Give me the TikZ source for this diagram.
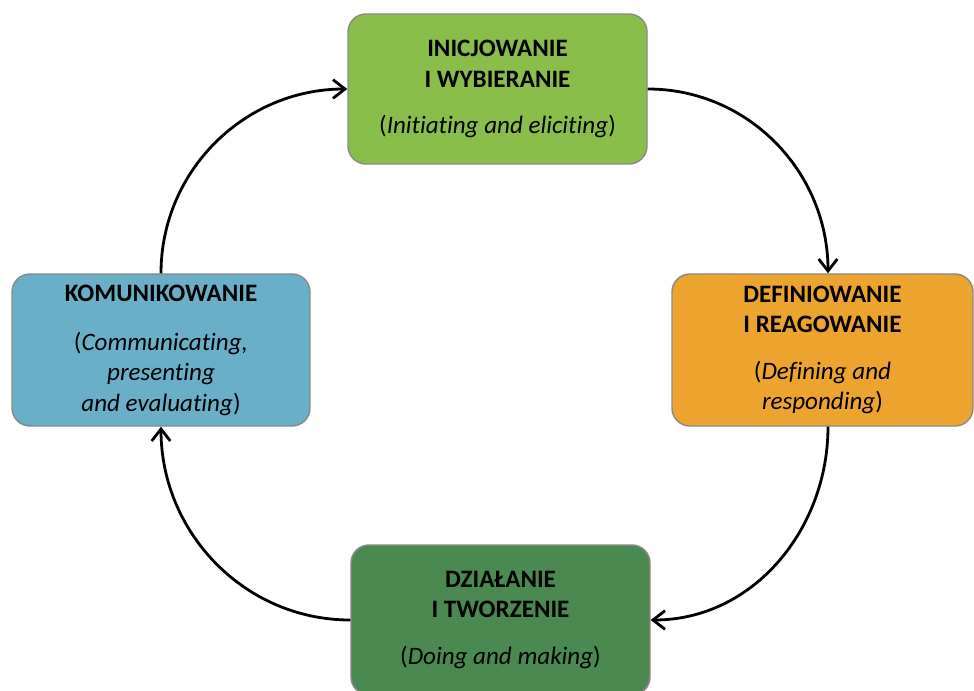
\documentclass[tikz,border=0pt]{standalone}
\usepackage{fontspec}
\setmainfont{Carlito}[Ligatures=NoCommon]
\usetikzlibrary{arrows.meta,calc}
\definecolor{cTop}{RGB}{137,190,74}
\definecolor{cRight}{RGB}{237,164,46}
\definecolor{cBottom}{RGB}{74,137,79}
\definecolor{cLeft}{RGB}{106,175,200}
\definecolor{cBorder}{RGB}{138,138,138}
\tikzset{
  stagebox/.style={draw=cBorder, line width=1.1pt, rounded corners=13.5pt,
    align=center, inner sep=0pt, text=black,
    font=\fontsize{18.8}{22.8}\selectfont},
  cyclearrow/.style={line width=2.1pt, -{Straight Barb[length=9pt,width=14pt,line width=2.1pt]}}
}
\begin{document}
\begin{tikzpicture}[x=0.75pt,y=-0.75pt]
\useasboundingbox (0,0) rectangle (974,691);
\node[stagebox, fill=cTop, minimum width=224.25pt, minimum height=112.5pt] (T) at (497.5,89)
  {\textbf{INICJOWANIE}\\\textbf{I WYBIERANIE}\\[12pt](\textit{Initiating and eliciting})};
\node[stagebox, fill=cRight, minimum width=225.75pt, minimum height=114pt] (R) at (822.5,350)
  {\textbf{DEFINIOWANIE}\\\textbf{I REAGOWANIE}\\[12pt](\textit{Defining and}\\\textit{responding})};
\node[stagebox, fill=cBottom, minimum width=224.25pt, minimum height=112.5pt] (B) at (500.5,620)
  {\textbf{DZIAŁANIE}\\\textbf{I TWORZENIE}\\[12pt](\textit{Doing and making})};
\node[stagebox, fill=cLeft, minimum width=223.5pt, minimum height=114pt] (L) at (161,350)
  {\textbf{KOMUNIKOWANIE}\\[14pt](\textit{Communicating,}\\\textit{presenting}\\\textit{and evaluating})};
\coordinate (Rn) at ($(R.north)+(5.5,0)$);
\coordinate (Rs) at ($(R.south)+(5.5,0)$);
\draw[cyclearrow] (L.north) to[out=90,in=180] (T.west);
\draw[cyclearrow] (T.east) to[out=0,in=90] (Rn);
\draw[cyclearrow] (Rs) to[out=-90,in=0] (B.east);
\draw[cyclearrow] (B.west) to[out=180,in=-90] (L.south);
\end{tikzpicture}
\end{document}
